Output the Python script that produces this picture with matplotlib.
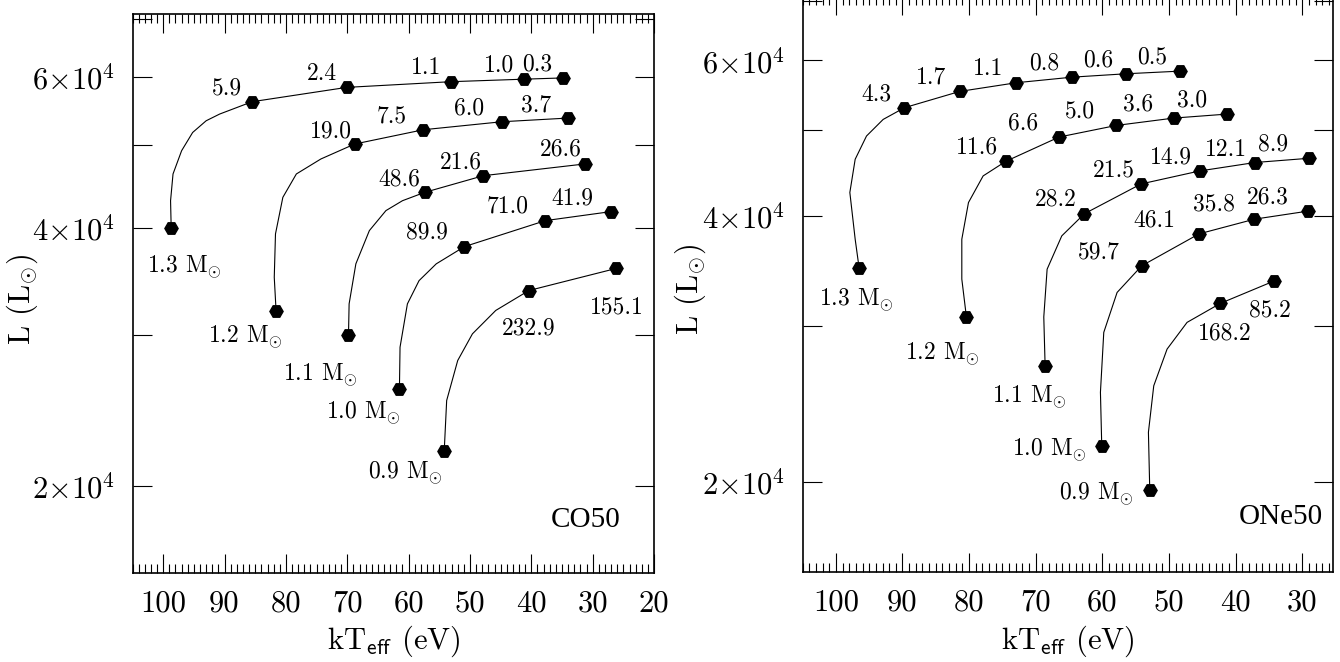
import matplotlib
matplotlib.use("Agg")
import matplotlib.pyplot as plt
from matplotlib.ticker import FixedLocator, FixedFormatter, MultipleLocator, NullLocator

plt.rcParams["font.family"] = ["cmr10", "DejaVu Serif"]
plt.rcParams["mathtext.fontset"] = "cm"
plt.rcParams["axes.formatter.use_mathtext"] = True

masses = ["1.3", "1.2", "1.1", "1.0", "0.9"]

# CO50: marked points on each track (first = starting point), kT in eV, L in Lsun
co_T = [
    [98.7, 85.5, 70.1, 53.1, 41.2, 34.9],
    [81.6, 68.8, 57.6, 44.8, 34.0],
    [69.8, 57.4, 47.8, 31.3],
    [61.5, 50.9, 37.7, 27.0],
    [54.2, 40.4, 26.2],
]
co_L = [
    [40000, 56100, 58300, 59200, 59600, 59800],
    [31960, 50070, 52030, 53160, 53690],
    [29990, 43970, 45990, 47460],
    [25940, 38010, 40760, 41760],
    [21940, 33780, 35840],
]
# track shape between the start and the second mark
co_bend_T = [
    [98.8, 98.4, 97.0, 95.2, 93.0, 90.8],
    [81.9, 81.7, 80.5, 78.3, 74.3],
    [69.7, 68.6, 66.4, 63.7, 61.0],
    [61.4, 60.2, 58.3, 55.5],
    [53.8, 52.0, 49.6, 45.8],
]
co_bend_L = [
    [43000, 46200, 49180, 51650, 53300, 54270],
    [35000, 39330, 43390, 46200, 48100],
    [32590, 36290, 39680, 41870, 43000],
    [29010, 32590, 34690, 36290],
    [25140, 27990, 30070, 32020],
]
co_labels = [
    ["5.9", "2.4", "1.1", "1.0", "0.3"],
    ["19.0", "7.5", "6.0", "3.7"],
    ["48.6", "21.6", "26.6"],
    ["89.9", "71.0", "41.9"],
    ["232.9", "155.1"],
]

# ONe50
one_T = [
    [96.5, 89.7, 81.4, 72.9, 64.5, 56.4, 48.3],
    [80.4, 74.5, 66.5, 57.9, 49.3, 41.3],
    [68.6, 62.7, 54.2, 45.4, 37.1, 29.0],
    [60.1, 54.1, 45.5, 37.2, 29.1],
    [52.9, 42.3, 34.3],
]
one_L = [
    [34880, 53050, 55350, 56620, 57450, 57960, 58360],
    [30690, 46120, 49140, 50650, 51630, 52170],
    [27050, 40230, 43480, 44980, 45980, 46490],
    [21920, 35120, 38170, 39660, 40510],
    [19560, 31840, 33740],
]
one_bend_T = [
    [97.1, 97.9, 97.1, 95.4, 92.9],
    [81.1, 81.1, 80.1, 77.9],
    [68.8, 68.3, 66.1],
    [60.3, 59.8, 57.8],
    [53.1, 52.3, 50.3, 47.3],
]
one_bend_L = [
    [37640, 42520, 46370, 49270, 51450],
    [33920, 37640, 41420, 44400],
    [30730, 34810, 37970],
    [25250, 29520, 32760],
    [22750, 25680, 28260, 30300],
]
one_labels = [
    ["4.3", "1.7", "1.1", "0.8", "0.6", "0.5"],
    ["11.6", "6.6", "5.0", "3.6", "3.0"],
    ["28.2", "21.5", "14.9", "12.1", "8.9"],
    ["59.7", "46.1", "35.8", "26.3"],
    ["168.2", "85.2"],
]

# label placement (pixel offsets from the marks, layout only)
co_lab_off = [
    [(-25, 15)] * 5,
    [(-24, 14), (-32, 15), (-33, 15), (-32, 14)],
    [(-25, 14.5), (-23, 15), (-23.5, 15.5)],
    [(-37.5, 15.3), (-37.7, 15.7), (-38.7, 15)],
    [(0, -36.7), (1, -38)],
]
co_mass_off = [(13, -38.3), (-31, -24.3), (-28.3, -39), (-36.5, -23.4), (-39.4, -21)]
one_lab_off = [
    [(-28.5, 15)] * 6,
    [(-29, 15.3), (-36, 15), (-36, 15), (-35.6, 14.7), (-35.5, 14.7)],
    [(-28.5, 15.5), (-27.4, 15.4), (-29.2, 15), (-28.7, 14.3), (-36, 15)],
    [(-42.5, 15), (-44.2, 14.7), (-40, 16), (-40.6, 15.1)],
    [(4, -28.4), (-3.5, -28)],
]
one_mass_off = [(-2.6, -30.7), (-24, -34.8), (-15.5, -29.7), (-52, -2.5), (-53.7, -2.7)]

y_ticks = [2e4, 3e4, 4e4, 5e4, 6e4, 7e4]
y_ticklabels = [r"$2{\times}10^4$", "", r"$4{\times}10^4$", "", r"$6{\times}10^4$", ""]


def draw_panel(ax, T, L, bend_T, bend_L, labels, lab_off, mass_off, xlim, xticks, tag, tag_x):
    for i in range(len(T)):
        line_T = [T[i][0]] + bend_T[i] + T[i][1:]
        line_L = [L[i][0]] + bend_L[i] + L[i][1:]
        ax.plot(line_T, line_L, color="black", lw=0.8)
        ax.plot(T[i], L[i], "H", ms=9.5, color="black", ls="none")
        for j, txt in enumerate(labels[i]):
            dx, dy = lab_off[i][j]
            ax.annotate(txt, (T[i][j + 1], L[i][j + 1]), xytext=(dx, dy - 7.5),
                        textcoords="offset pixels", ha="center", va="baseline", fontsize=17)
        dx, dy = mass_off[i]
        ax.annotate(masses[i] + r" M$_{\odot}$", (T[i][0], L[i][0]), xytext=(dx, dy - 7.5),
                    textcoords="offset pixels", ha="center", va="baseline", fontsize=17)

    ax.set_yscale("log")
    ax.set_xlim(*xlim)
    ax.set_ylim(1.58e4, 7.1e4)
    ax.yaxis.set_major_locator(FixedLocator(y_ticks))
    ax.yaxis.set_major_formatter(FixedFormatter(y_ticklabels))
    ax.yaxis.set_minor_locator(NullLocator())
    ax.xaxis.set_major_locator(FixedLocator(xticks))
    ax.xaxis.set_major_formatter(FixedFormatter([str(v) for v in xticks]))
    ax.xaxis.set_minor_locator(MultipleLocator(1))
    ax.tick_params(which="both", direction="in", top=True, right=True, width=0.8)
    ax.tick_params(which="major", length=13.5, labelsize=22)
    ax.tick_params(axis="x", which="major", pad=12)
    ax.tick_params(axis="y", which="major", pad=12.5)
    ax.tick_params(which="minor", length=6.5)
    for sp in ax.spines.values():
        sp.set_linewidth(1.2)

    ax.set_xlabel(r"kT$_{\mathsf{eff}}$ (eV)", fontsize=22)
    ax.set_ylabel(r"L (L$_{\odot}$)", fontsize=22)
    ax.xaxis.set_label_coords(0.5, -0.09)
    ax.yaxis.set_label_coords(-0.178, 0.49)
    ax.text(tag_x, 0.095, tag, transform=ax.transAxes, ha="right", va="center",
            fontsize=21, family="Liberation Serif")


fig = plt.figure(figsize=(13.4, 6.62), dpi=100)
ax1 = fig.add_axes([0.0989, 0.1339, 0.3892, 0.8449])
ax2 = fig.add_axes([0.5989, 0.1360, 0.3959, 0.8701])

draw_panel(ax1, co_T, co_L, co_bend_T, co_bend_L, co_labels, co_lab_off, co_mass_off,
           (105, 20), [100, 90, 80, 70, 60, 50, 40, 30, 20], "CO50", 0.935)
draw_panel(ax2, one_T, one_L, one_bend_T, one_bend_L, one_labels, one_lab_off, one_mass_off,
           (105, 25.4), [100, 90, 80, 70, 60, 50, 40, 30], "ONe50", 0.981)

fig.savefig("out.png", dpi=100)
